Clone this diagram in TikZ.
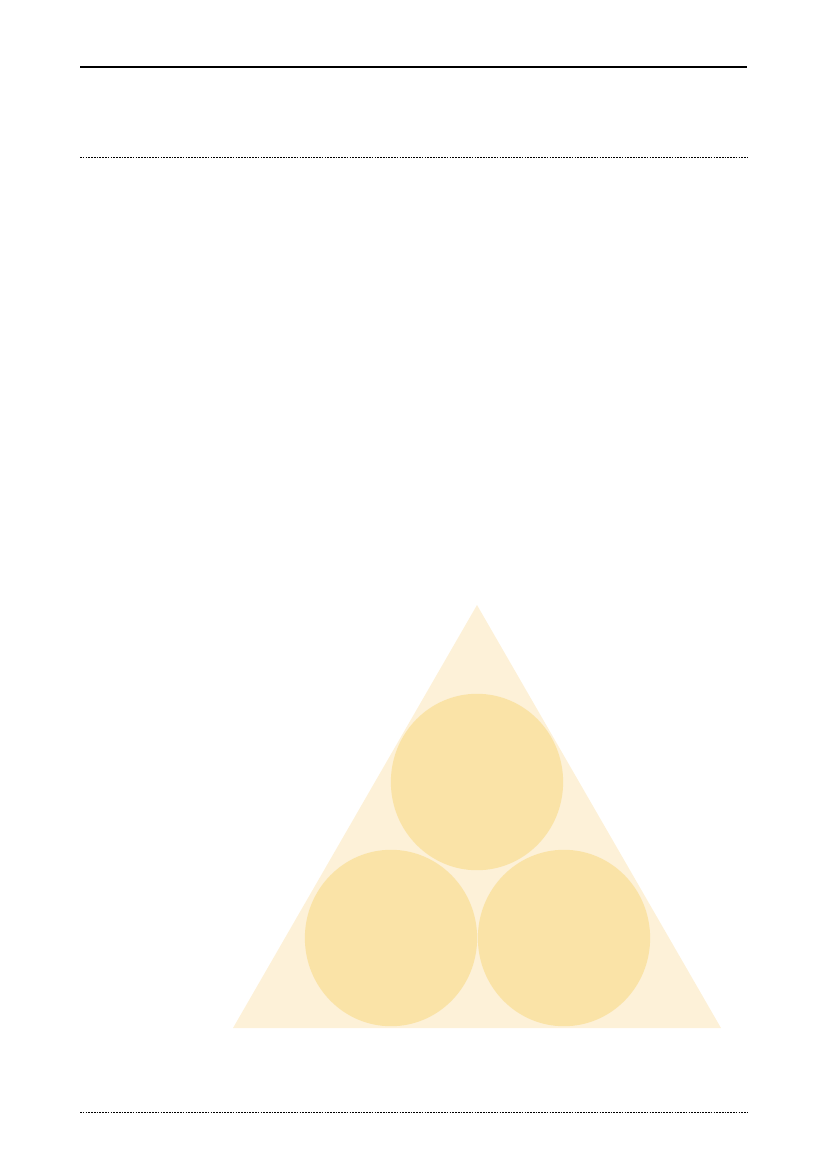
\documentclass[tikz,border=0pt]{standalone}
\usepackage{tikz}
\definecolor{paleamber}{RGB}{253,241,216}
\definecolor{amber}{RGB}{250,227,167}
\begin{document}
\begin{tikzpicture}[x=0.7198pt,y=-0.7198pt]
\useasboundingbox (0,0) rectangle (827,1169);
\draw[line width=0.8pt] (80,67) -- (747,67);
\draw[line width=0.7pt,dash pattern=on 1.2pt off 0.8pt] (80,157) -- (747,157);
\draw[line width=0.7pt,dash pattern=on 1.2pt off 0.8pt] (80,1112) -- (747,1112);
\fill[paleamber] (477,605) -- (233,1028) -- (721,1028) -- cycle;
\fill[amber] (477,782) ellipse (62pt and 63.5pt);
\fill[amber] (391,938) ellipse (62pt and 63.5pt);
\fill[amber] (564,938) ellipse (62pt and 63.5pt);
\end{tikzpicture}
\end{document}
